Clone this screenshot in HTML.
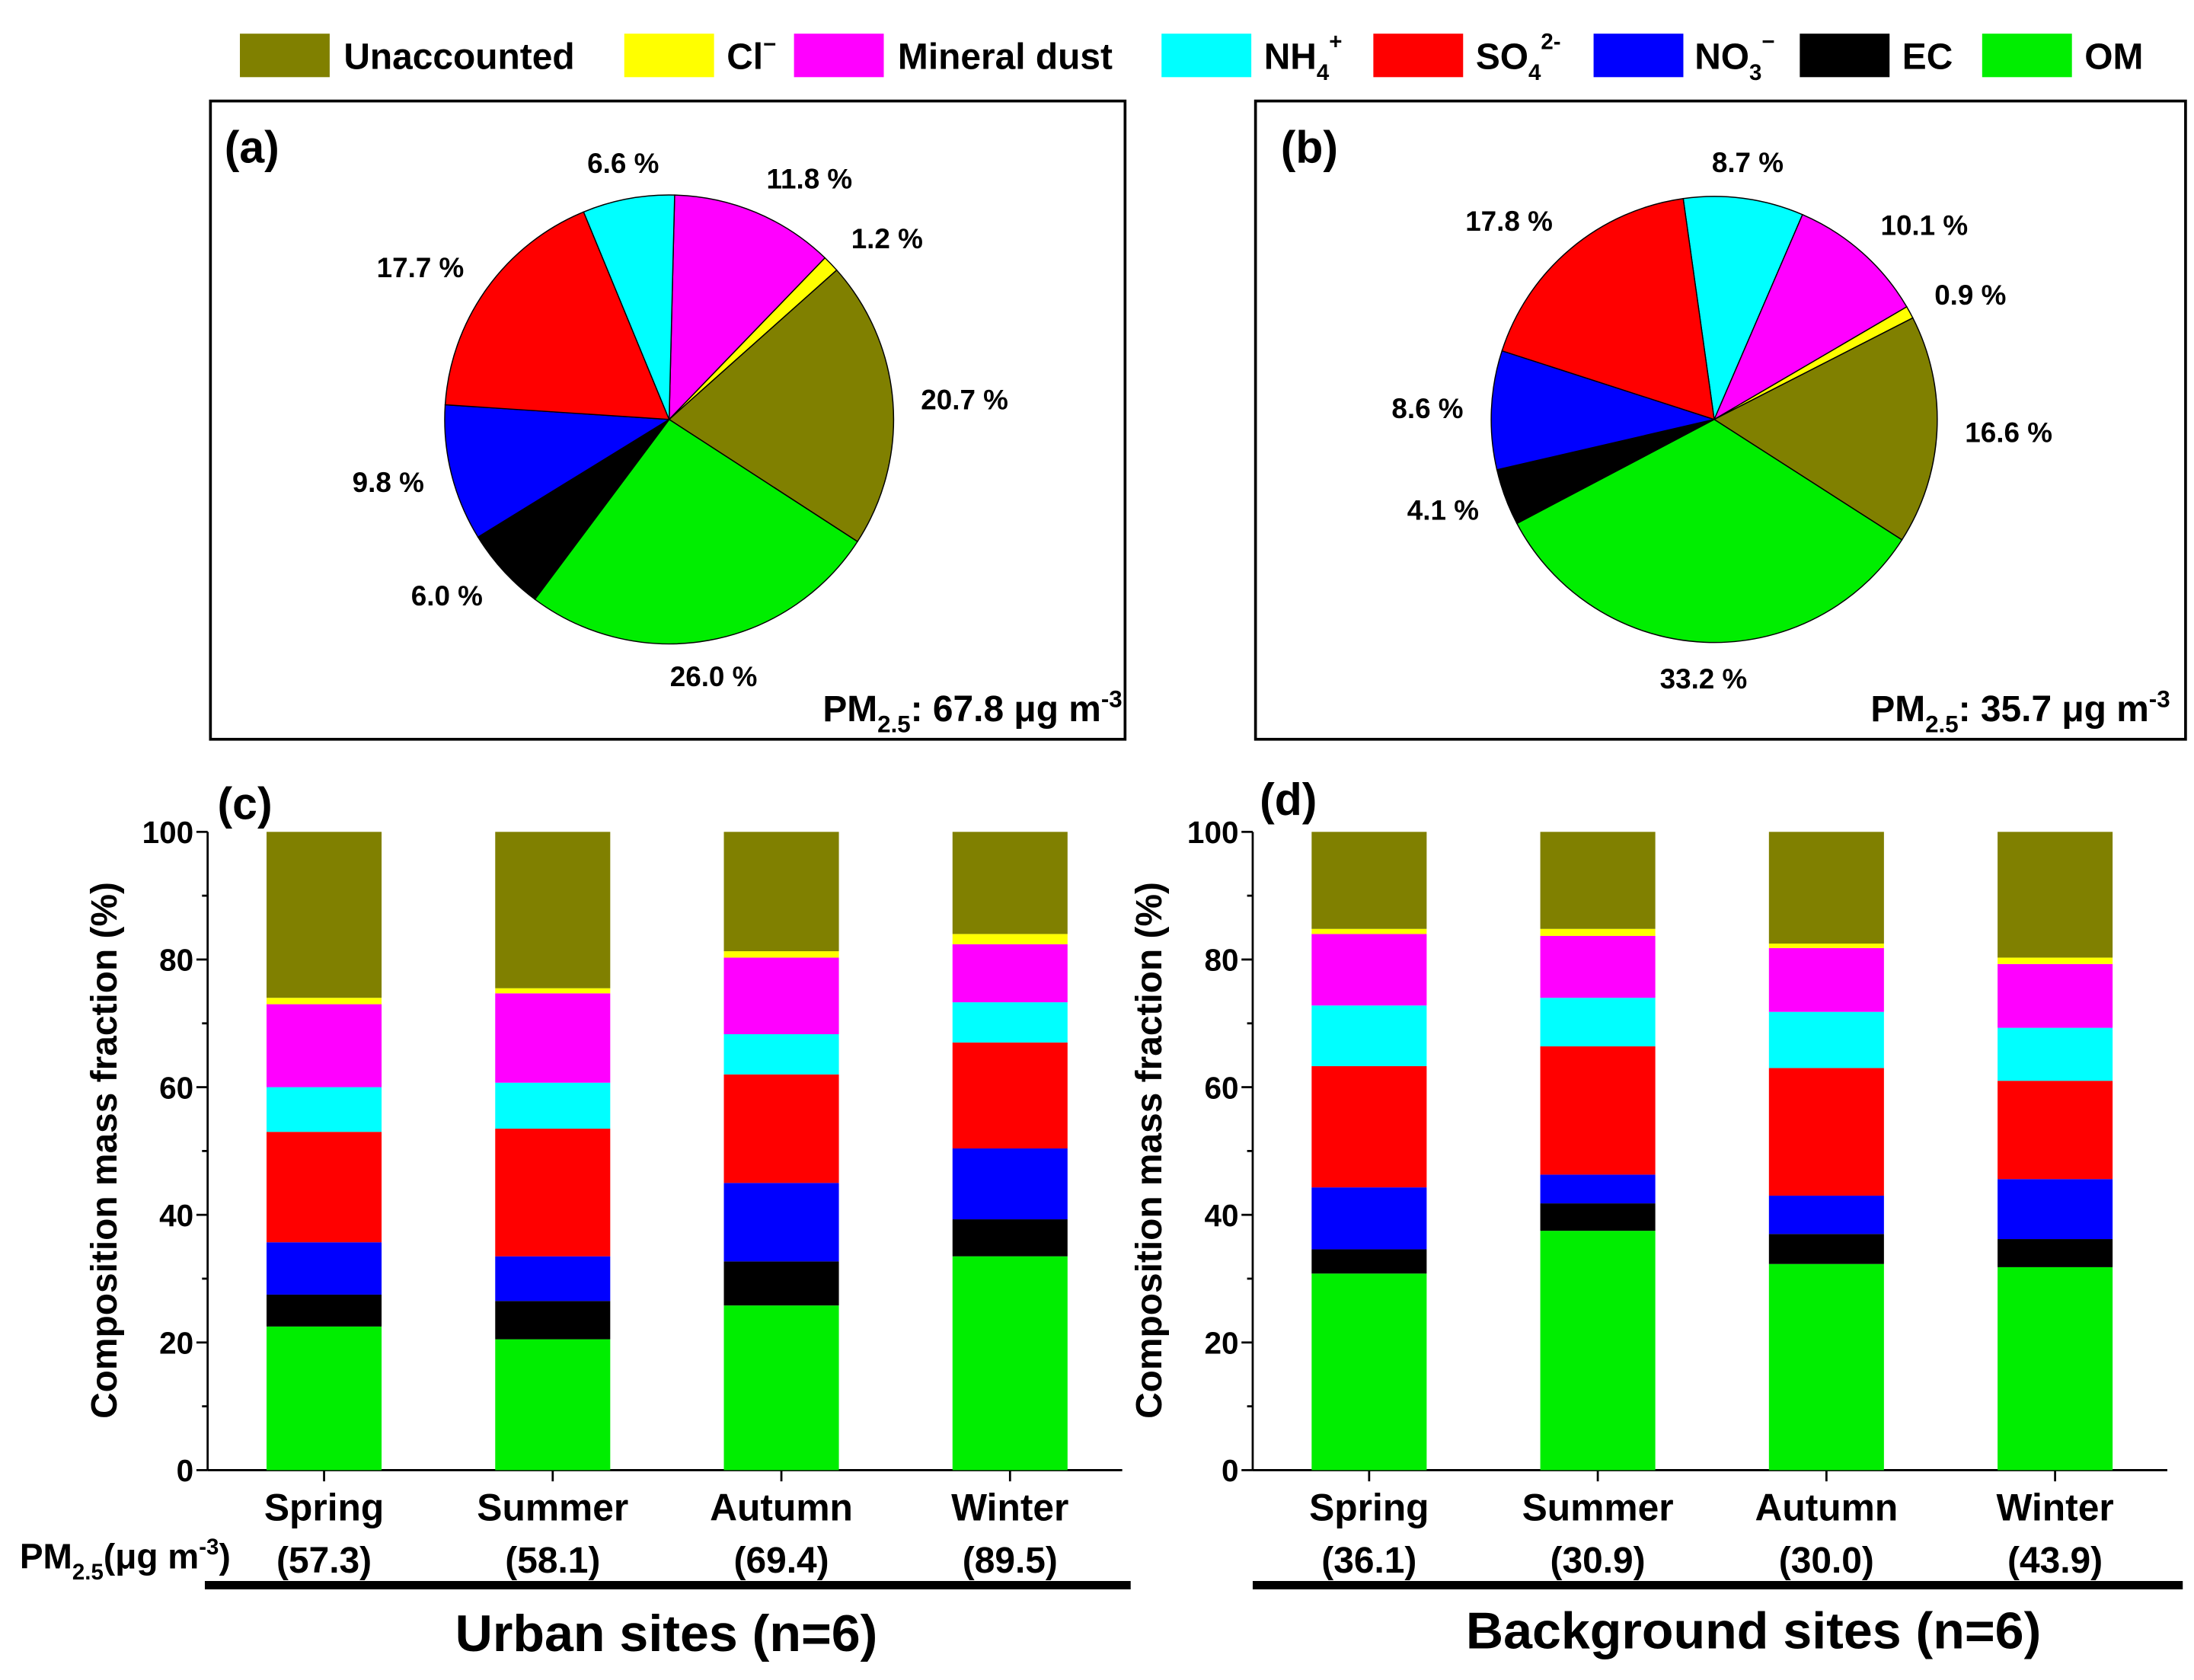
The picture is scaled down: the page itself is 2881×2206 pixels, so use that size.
<!DOCTYPE html>
<html><head><meta charset="utf-8"><style>
html,body{margin:0;padding:0;background:#fff}
svg{display:block}
text{font-family:"Liberation Sans",Arial,sans-serif;font-weight:bold;fill:#000}
</style></head><body>
<svg id="fig" width="2881" height="2206" viewBox="0 0 1564 1197.6" xmlns="http://www.w3.org/2000/svg">
<g id="legend"></g>
<rect x="150" y="72" width="652" height="455" fill="none" stroke="#000" stroke-width="2"/>
<rect x="895" y="72" width="663" height="455" fill="none" stroke="#000" stroke-width="2"/>
<g id="pieA"></g>
<g id="pieB"></g>
<g id="barC"></g>
<g id="barD"></g>
<text x="160" y="116" font-size="32">(a)</text>
<text x="913" y="116" font-size="32">(b)</text>
<text x="155" y="584" font-size="32">(c)</text>
<text x="898" y="581" font-size="32">(d)</text>
<text x="800" y="514" font-size="26" text-anchor="end">PM<tspan font-size="17" dy="8">2.5</tspan><tspan dy="-8">: 67.8 μg m</tspan><tspan font-size="17" dy="-10">-3</tspan></text>
<text x="1547" y="514" font-size="26" text-anchor="end">PM<tspan font-size="17" dy="8">2.5</tspan><tspan dy="-8">: 35.7 μg m</tspan><tspan font-size="17" dy="-10">-3</tspan></text>
<text x="14" y="1118" font-size="25">PM<tspan font-size="16" dy="8">2.5</tspan><tspan dy="-8">(μg m</tspan><tspan font-size="16" dy="-10">-3</tspan><tspan dy="10">)</tspan></text>
<line x1="146" y1="1130" x2="806" y2="1130" stroke="#000" stroke-width="6"/>
<line x1="893" y1="1130" x2="1556" y2="1130" stroke="#000" stroke-width="6"/>
<text x="475" y="1177" font-size="37" text-anchor="middle">Urban sites (n=6)</text>
<text x="1250" y="1175" font-size="37" text-anchor="middle">Background sites (n=6)</text>
</svg>
<script>
const NS="http://www.w3.org/2000/svg";
const compNames=["OM","EC","NO3","SO4","NH4","Mineral dust","Cl","Unaccounted"];
const compColors=["#00ee00","#000000","#0000ff","#ff0000","#00ffff","#ff00ff","#ffff00","#808000"];
const seasons=["Spring","Summer","Autumn","Winter"];
const urbanPM=["(57.3)","(58.1)","(69.4)","(89.5)"];
const bgPM=["(36.1)","(30.9)","(30.0)","(43.9)"];
// urban component fractions per season, order: OM, EC, NO3, SO4, NH4, dust, Cl, Unaccounted
const urbanSpring=[22.5,5.0,8.2,17.3,7.0,13.0,1.0,26.0];
const urbanSummer=[20.5,6.0,7.0,20.0,7.2,14.0,0.8,24.5];
const urbanAutumn=[25.8,6.9,12.3,17.0,6.3,12.0,1.0,18.7];
const urbanWinter=[33.5,5.8,11.1,16.6,6.3,9.1,1.6,16.0];
const bgSpring=[30.8,3.8,9.7,19.0,9.5,11.2,0.8,15.2];
const bgSummer=[37.5,4.3,4.5,20.1,7.6,9.7,1.1,15.2];
const bgAutumn=[32.3,4.7,6.0,20.0,8.8,10.0,0.7,17.5];
const bgWinter=[31.8,4.4,9.4,15.4,8.3,10.0,1.0,19.7];
const yTicks=[0,20,40,60,80,100];
// pie data, clockwise order
const pieAOrder=["Mineral dust","Cl","Unaccounted","OM","EC","NO3","SO4","NH4"];
const pieAValues=[11.8,1.2,20.7,26.0,6.0,9.8,17.7,6.6];
const pieBOrder=["NH4","Mineral dust","Cl","Unaccounted","OM","EC","NO3","SO4"];
const pieBValues=[8.7,10.1,0.9,16.6,33.2,4.1,8.6,17.8];

function mk(tag,attrs,parent){const e=document.createElementNS(NS,tag);for(const k in attrs)e.setAttribute(k,attrs[k]);parent.appendChild(e);return e;}
function col(name){return compColors[compNames.indexOf(name)];}

const leg=document.getElementById('legend');
const legItems=[["Unaccounted",171,245],["Cl",445,518],["Mineral dust",566,640],["NH4",828,901],["SO4",979,1052],["NO3",1136,1208],["EC",1283,1356],["OM",1413,1486]];
legItems.forEach(it=>{
  const r=mk('rect',{x:it[1],y:24,width:64,height:31,fill:col(it[0])},leg);
  
  
  const t=mk('text',{x:it[2],y:49,'font-size':26},leg);
  
  
  if(it[0]==="Cl"){t.innerHTML='Cl<tspan font-size="16" dy="-12">−</tspan>';}
  else if(it[0]==="NH4"){t.innerHTML='NH<tspan font-size="16" dy="8">4</tspan><tspan font-size="16" dy="-22">+</tspan>';}
  else if(it[0]==="SO4"){t.innerHTML='SO<tspan font-size="16" dy="8">4</tspan><tspan font-size="16" dy="-22">2-</tspan>';}
  else if(it[0]==="NO3"){t.innerHTML='NO<tspan font-size="16" dy="8">3</tspan><tspan font-size="16" dy="-22">−</tspan>';}
  else t.textContent=it[0];
});

function pie(g,cx,cy,r,startDeg,order,vals){
  let a=startDeg;
  const total=vals.reduce((s,v)=>s+v,0);
  vals.forEach((v,i)=>{
    const sweep=v/total*360;
    const a0=a*Math.PI/180,a1=(a+sweep)*Math.PI/180;
    const x0=cx+r*Math.sin(a0),y0=cy-r*Math.cos(a0),x1=cx+r*Math.sin(a1),y1=cy-r*Math.cos(a1);
    const p=mk('path',{d:`M${cx},${cy}L${x0},${y0}A${r},${r} 0 ${sweep>180?1:0} 1 ${x1},${y1}Z`,fill:col(order[i]),stroke:'#000','stroke-width':0.8},g);
    
    
    const m=(a+sweep/2)*Math.PI/180;
    const lr=r+20;
    const s=Math.sin(m),c=Math.cos(m);
    const lx=cx+lr*s,ly=cy-lr*c+7-c*6;
    const t=mk('text',{x:lx,y:ly,'font-size':20,'text-anchor':s>0.3?'start':(s<-0.3?'end':'middle')},g);
    t.textContent=v.toFixed(1)+' %';
    
    
    a+=sweep;
  });
}
pie(document.getElementById('pieA'),477,299,160,1.4,pieAOrder,pieAValues);
pie(document.getElementById('pieB'),1222,299,159,-8,pieBOrder,pieBValues);

function bars(g,axisX,axisRight,firstCenter,step,data,pm){
  const y0=1048,y100=593;
  const yS=v=>y0-(y0-y100)*v/100;
  const bw=82;
  const ax=mk('line',{x1:axisX,y1:y0,x2:axisX,y2:y100,stroke:'#000','stroke-width':1.5},g);
  
  const bx=mk('line',{x1:axisX,y1:y0,x2:axisRight,y2:y0,stroke:'#000','stroke-width':1.5},g);
  
  for(let v=0;v<=100;v+=10){
    const major=v%20===0;
    mk('line',{x1:axisX-(major?8:4),y1:yS(v),x2:axisX,y2:yS(v),stroke:'#000','stroke-width':1.5},g);
  }
  yTicks.forEach(v=>{
    const t=mk('text',{x:axisX-10,y:yS(v)+8,'font-size':22,'text-anchor':'end'},g);
    t.textContent=v;
    
  });
  const yt=mk('text',{x:0,y:0,'font-size':26,'text-anchor':'middle',transform:`translate(${axisX-65},820) rotate(-90)`},g);
  yt.textContent='Composition mass fraction (%)';
  
  data.forEach((vals,i)=>{
    const cx=firstCenter+i*step;
    mk('line',{x1:cx,y1:y0,x2:cx,y2:y0+8,stroke:'#000','stroke-width':1.5},g);
    let cum=0;
    vals.forEach((v,j)=>{
      const r=mk('rect',{x:cx-bw/2,y:yS(cum+v),width:bw,height:yS(cum)-yS(cum+v),fill:compColors[j]},g);
      
      
      cum+=v;
    });
    const t=mk('text',{x:cx,y:1084,'font-size':27,'text-anchor':'middle'},g);
    t.textContent=seasons[i];
    
    const p=mk('text',{x:cx,y:1121,'font-size':26,'text-anchor':'middle'},g);
    p.textContent=pm[i];
    
  });
}
bars(document.getElementById('barC'),148,800,231,163,[urbanSpring,urbanSummer,urbanAutumn,urbanWinter],urbanPM);
bars(document.getElementById('barD'),893,1545,976,163,[bgSpring,bgSummer,bgAutumn,bgWinter],bgPM);
</script>
</body></html>
